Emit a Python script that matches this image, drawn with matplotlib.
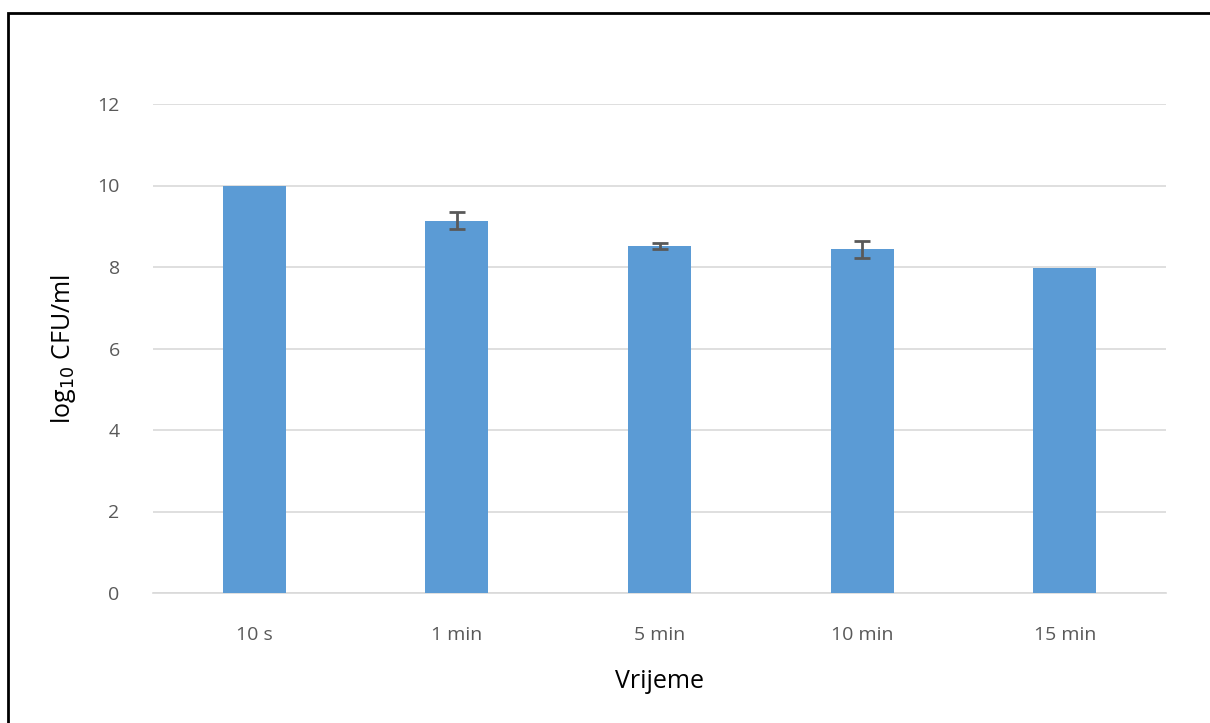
import matplotlib
matplotlib.use("Agg")
import matplotlib.pyplot as plt
from matplotlib.patches import Rectangle

categories = ["10 s", "1 min", "5 min", "10 min", "15 min"]
values = [9.99, 9.14, 8.51, 8.43, 7.98]
errors = [0.0, 0.21, 0.08, 0.22, 0.0]

plt.rcParams["font.family"] = ["Open Sans", "DejaVu Sans"]

fig = plt.figure(figsize=(12.1, 7.23), dpi=100)
ax = fig.add_axes([153 / 1210, 1 - 593 / 723, (1166 - 153) / 1210, (593 - 104) / 723])

x = list(range(len(categories)))
ax.bar(x, values, width=0.31, color="#5b9bd5", zorder=3)
# only bars with a spread get an error bar
ex = [i for i, e in zip(x, errors) if e > 0]
ev = [v for v, e in zip(values, errors) if e > 0]
ee = [e for e in errors if e > 0]
ax.errorbar(ex, ev, yerr=ee, fmt="none", ecolor="#595959",
            elinewidth=2, capsize=6, capthick=2, zorder=4)

ax.set_xlim(-0.5, len(categories) - 0.5)
ax.set_ylim(0, 12)
ax.set_yticks(range(0, 13, 2))
ax.set_xticks(x)
ax.set_xticklabels(categories)
ax.tick_params(length=0, labelsize=14, colors="#595959")
ax.tick_params(axis="x", pad=24)
ax.tick_params(axis="y", pad=24)
ax.grid(axis="y", color="#d9d9d9", lw=1.2, zorder=0)
for s in ["top", "right", "left"]:
    ax.spines[s].set_visible(False)
ax.spines["bottom"].set_color("#d9d9d9")
ax.spines["bottom"].set_linewidth(1.2)

ax.set_xlabel("Vrijeme", fontsize=18, labelpad=18)
ax.set_ylabel(r"log$_{10}$ CFU/ml", fontsize=18, labelpad=14)

fig.patches.append(Rectangle((8 / 1210, -0.01), 1.0, 1 - 13 / 723 + 0.01,
                             transform=fig.transFigure, fill=False,
                             edgecolor="black", lw=2))

fig.savefig("out.png", dpi=100)
